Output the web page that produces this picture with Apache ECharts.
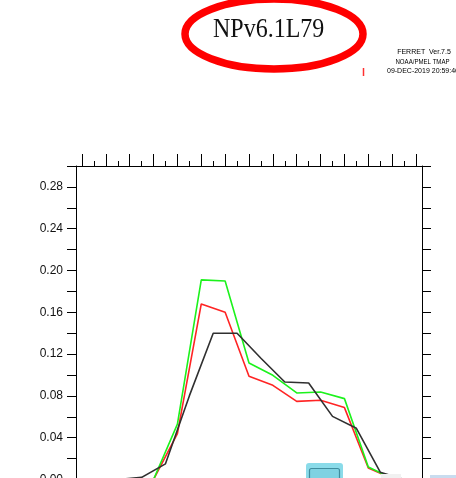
<!DOCTYPE html>
<html>
<head>
<meta charset="utf-8">
<script src="https://cdn.jsdelivr.net/npm/echarts@6/dist/echarts.min.js"></script>
<style>
  html, body { margin: 0; padding: 0; background: #fff; }
  #chart { width: 456px; height: 478px; }
</style>
</head>
<body>
<div id="chart"></div>
<script>
// Run label and plot stamp
const titleText = 'NPv6.1L79';
const stampLines = ['FERRET  Ver.7.5', 'NOAA/PMEL TMAP', '09-DEC-2019 20:59:46'];

// Horizontal positions: the red and green runs sit on the tens, the black one on the fives
const xTens = [-70, -60, -50, -40, -30, -20, -10, 0, 10, 20, 30, 40, 50, 60, 70];
const xFives = [-65, -55, -45, -35, -25, -15, -5, 5, 15, 25, 35, 45, 55, 65];

const greenValues = [0, 0, 0, 0, 0.053, 0.191, 0.190, 0.1115, 0.0997, 0.0828, 0.0837, 0.0774, 0.012, 0.001, 0];
const redValues   = [0, 0, 0, 0, 0.044, 0.168, 0.160, 0.0988, 0.0901, 0.0748, 0.0758, 0.0688, 0.0110, 0.001, 0];
const blackValues = [0, 0, 0.002, 0.015, 0.080, 0.140, 0.140, 0.116, 0.0933, 0.0923, 0.0604, 0.049, 0.007, 0];

// Axis ticks and labels
const xMajorTicks = [-70, -60, -50, -40, -30, -20, -10, 0, 10, 20, 30, 40, 50, 60, 70];
const xMinorTicks = [-65, -55, -45, -35, -25, -15, -5, 5, 15, 25, 35, 45, 55, 65];
const yLabelValues = [0, 0.04, 0.08, 0.12, 0.16, 0.20, 0.24, 0.28];

const pair = (xs, ys) => xs.map((x, i) => [x, ys[i]]);

const chart = echarts.init(document.getElementById('chart'), null, { renderer: 'canvas' });

const xBase = {
  type: 'value', min: -72.5, max: 72.5, gridIndex: 0,
  splitLine: { show: false },
  axisLabel: { show: false }
};
const yBase = {
  type: 'value', min: 0, max: 0.30, interval: 0.02,
  splitLine: { show: false },
  axisLine: { show: true, onZero: false, lineStyle: { color: '#000', width: 1 } },
  axisTick: { show: true, inside: false, length: 9, lineStyle: { color: '#000', width: 1 } }
};

chart.setOption({
  animation: false,
  backgroundColor: '#fff',
  grid: { left: 76, top: 166, width: 346, height: 313.5, containLabel: false, outerBoundsMode: 'none' },
  xAxis: [
    Object.assign({}, xBase, {
      position: 'top',
      axisLine: { show: true, onZero: false, lineStyle: { color: '#000', width: 1 } },
      axisTick: { show: true, inside: false, length: 12, customValues: xMajorTicks, lineStyle: { color: '#000', width: 1 } }
    }),
    Object.assign({}, xBase, {
      position: 'top',
      axisLine: { show: false, onZero: false },
      axisTick: { show: true, inside: false, length: 5, customValues: xMinorTicks, lineStyle: { color: '#000', width: 1 } }
    }),
    Object.assign({}, xBase, {
      position: 'bottom',
      axisLine: { show: true, onZero: false, lineStyle: { color: '#000', width: 1 } },
      axisTick: { show: false }
    })
  ],
  yAxis: [
    Object.assign({}, yBase, {
      position: 'left',
      axisLabel: {
        show: true, margin: 13, color: '#111',
        fontFamily: 'Liberation Sans', fontSize: 12,
        customValues: yLabelValues,
        formatter: v => v.toFixed(2)
      }
    }),
    Object.assign({}, yBase, {
      position: 'right',
      axisLabel: { show: false }
    })
  ],
  series: [
    {
      type: 'line', xAxisIndex: 0, yAxisIndex: 0, data: pair(xTens, redValues),
      showSymbol: false, clip: true,
      lineStyle: { color: '#ff2424', width: 1.6 }
    },
    {
      type: 'line', xAxisIndex: 0, yAxisIndex: 0, data: pair(xTens, greenValues),
      showSymbol: false, clip: true,
      lineStyle: { color: '#1cf21c', width: 1.6 }
    },
    {
      type: 'line', xAxisIndex: 0, yAxisIndex: 0, data: pair(xFives, blackValues),
      showSymbol: false, clip: true,
      lineStyle: { color: '#303030', width: 1.6 }
    }
  ],
  graphic: [
    {
      type: 'ellipse', z: 10,
      shape: { cx: 274, cy: 34, rx: 89, ry: 35 },
      style: { fill: null, stroke: '#ff0000', lineWidth: 7.5 }
    },
    {
      type: 'text', z: 11, x: 268.7, y: 30.5, scaleY: 1.1, originX: 0, originY: 0,
      style: {
        text: titleText, fill: '#111',
        font: '24px "Liberation Serif"',
        textAlign: 'center', textVerticalAlign: 'middle'
      }
    },
    {
      type: 'line', z: 11,
      shape: { x1: 363.5, y1: 68, x2: 363.5, y2: 76 },
      style: { stroke: '#ff3030', lineWidth: 1.5 }
    },
    {
      type: 'text', z: 11, x: 424, y: 52.5,
      style: { text: stampLines[0], fill: '#000', font: '7px "Liberation Sans"', textAlign: 'center', textVerticalAlign: 'middle' }
    },
    {
      type: 'text', z: 11, x: 422.5, y: 62.5, scaleX: 0.87, originX: 0, originY: 0,
      style: { text: stampLines[1], fill: '#000', font: '7px "Liberation Sans"', textAlign: 'center', textVerticalAlign: 'middle' }
    },
    {
      type: 'text', z: 11, x: 423, y: 71.2,
      style: { text: stampLines[2], fill: '#000', font: '7px "Liberation Sans"', textAlign: 'center', textVerticalAlign: 'middle' }
    },
    {
      type: 'rect', z: 20,
      shape: { x: 306, y: 463, width: 37, height: 20, r: 3 },
      style: { fill: '#8adbe9' }
    },
    {
      type: 'rect', z: 21,
      shape: { x: 309.5, y: 468.5, width: 30, height: 14, r: 2 },
      style: { fill: '#7fd2e2', stroke: '#3f8d9e', lineWidth: 1.2 }
    },
    {
      type: 'rect', z: 20,
      shape: { x: 381, y: 474, width: 20, height: 6 },
      style: { fill: '#f1f1f1' }
    },
    {
      type: 'rect', z: 20,
      shape: { x: 430, y: 475, width: 26, height: 5 },
      style: { fill: '#c9dcef' }
    }
  ]
});
</script>
</body>
</html>
